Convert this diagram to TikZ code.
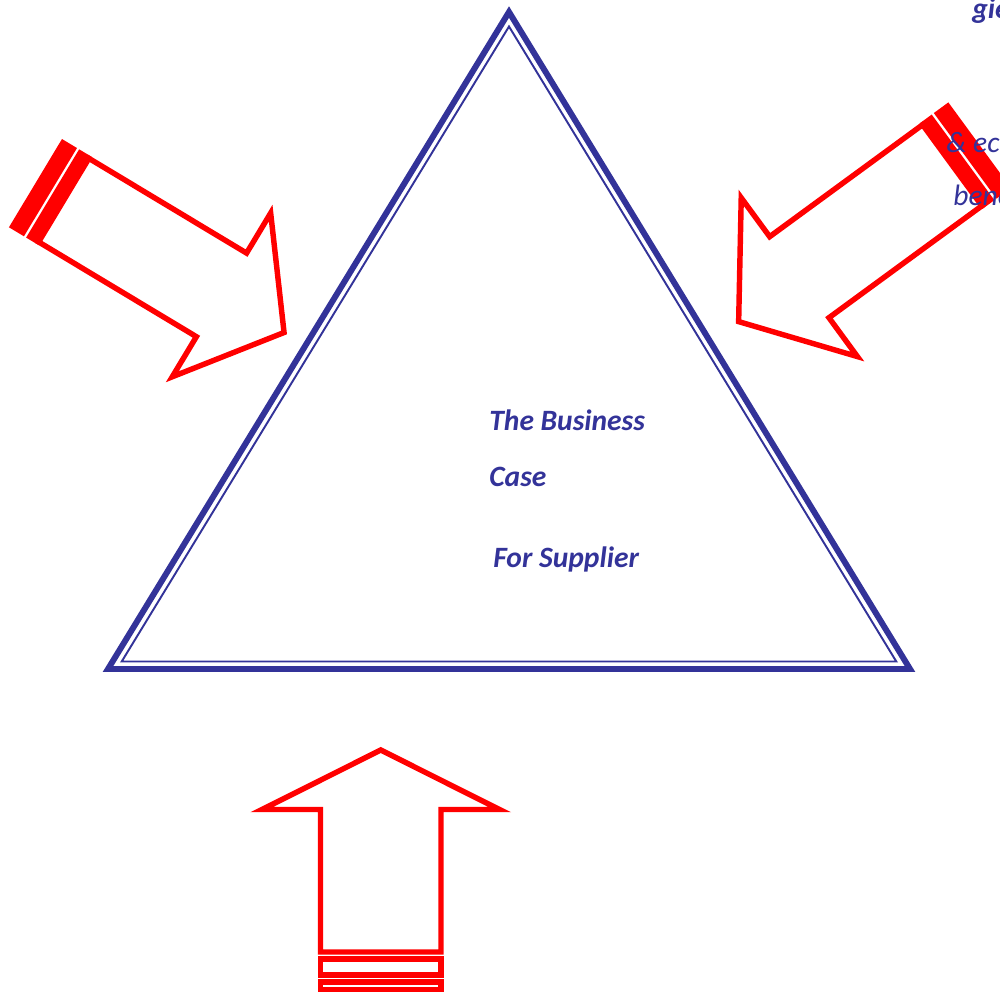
\documentclass[tikz,border=0pt]{standalone}
\usepackage{fontspec}
\setmainfont{Carlito}
\usepackage{tikz}

\definecolor{triblue}{RGB}{51,51,153}

\tikzset{
  tribox/.style={draw=triblue, line width=3.4pt, line join=miter},
  triinner/.style={draw=triblue, line width=1.1pt, line join=miter},
  arrowline/.style={draw=red, line width=3.1pt, line join=miter, fill=white},
  casetext/.style={text=triblue, font=\fontsize{16.8}{20}\selectfont\bfseries\itshape, anchor=base west, inner sep=0pt},
  sidetext/.style={text=triblue, font=\fontsize{16.8}{20}\selectfont\itshape, anchor=base west, inner sep=0pt}
}

% striped arrow, drawn along its own axis (s along, t across)
\newcommand{\stripedarrow}{%
  \fill[red] (0,0) rectangle (17.5,103);
  \draw[arrowline] (33,2.75) -- (217,2.75) -- (217,-44) -- (290,51.5) -- (217,147) -- (217,100.25) -- (33,100.25) -- cycle;
  \fill[red] (20,0) rectangle (34.5,103);
}

\begin{document}
\begin{tikzpicture}[x=0.02cm, y=-0.02cm]
  \useasboundingbox (0,0) rectangle (1000,994);
  \clip (0,0) rectangle (1000,994);

  % Triangle
  \draw[tribox] (509,12) -- (108,669) -- (910,669) -- cycle;
  \draw[triinner] (509,26.5) -- (121.7,661.5) -- (896.3,661.5) -- cycle;

  % Left arrow
  \begin{scope}[shift={(62,139)}, rotate=-31]
    \stripedarrow
  \end{scope}

  % Right arrow
  \begin{scope}[shift={(1011,188)}, rotate=-143.8, scale=1.03]
    \stripedarrow
  \end{scope}

  % Bottom arrow
  \draw[arrowline] (320.5,952) -- (320.5,809.5) -- (262,809.5) -- (380.75,750) -- (499.5,809.5) -- (441,809.5) -- (441,952) -- cycle;
  \draw[arrowline] (320.5,959) rectangle (441,975);
  \draw[arrowline] (320.5,982) rectangle (441,989.5);

  % Business case text
  \node[casetext] (line1) at (489,430) {The Business};
  \node[casetext] (line2) at (489,486) {Case};
  \node[casetext] (line3) at (493,567) {For Supplier};

  % Text cut by the right edge
  \node[casetext] (side1) at (972,18) {gies};
  \node[sidetext] (side2) at (946,152) {\& economic};
  \node[sidetext] (side3) at (953,205) {benefits};
\end{tikzpicture}
\end{document}
